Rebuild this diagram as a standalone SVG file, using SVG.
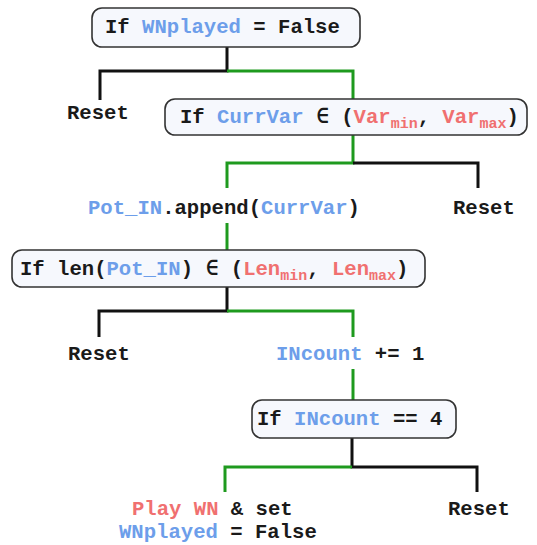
<svg xmlns="http://www.w3.org/2000/svg" width="537" height="545" viewBox="0 0 537 545">
<style>
text{font-family:"Liberation Mono","DejaVu Sans Mono",monospace;font-weight:bold;font-size:20.6px;fill:#1a1a1a}
.b{fill:#6d9eea}
.r{fill:#f07070}
.s{font-size:15px}
.box{fill:#f6f8fd;stroke:#333;stroke-width:1.6}
.k{fill:none;stroke:#111;stroke-width:3}
.g{fill:none;stroke:#1e9a1e;stroke-width:3}
</style>
<rect width="537" height="545" fill="#fff"/>
<g id="connectors">
<path class="k" d="M227,47 V71 H100 V100"/>
<path class="g" d="M227,71 H353 V99"/>
<path class="g" d="M353,135 V163 H227 V188"/>
<path class="k" d="M353,163 H478 V188"/>
<path class="g" d="M227,223 V250"/>
<path class="k" d="M227,287 V311 H99 V337"/>
<path class="g" d="M227,311 H353 V337"/>
<path class="g" d="M353,369 V400"/>
<path class="k" d="M352,438 V467 H477 V492"/>
<path class="g" d="M352,467 H225 V492"/>
</g>
<g id="n1">
<rect class="box" x="92" y="8" width="268" height="39" rx="10"/>
<text x="105" y="33">If <tspan class="b">WNplayed</tspan> = False</text>
</g>
<g id="reset1"><text x="67" y="119">Reset</text></g>
<g id="n2">
<rect class="box" x="165" y="99" width="362" height="36" rx="10"/>
<text x="180" y="123">If <tspan class="b">CurrVar</tspan> <tspan x="316.4">∈</tspan> <tspan x="341.2">(</tspan><tspan class="r">Var</tspan><tspan class="r s" dy="5">min</tspan><tspan dy="-5">, </tspan><tspan class="r">Var</tspan><tspan class="r s" dy="5">max</tspan><tspan dy="-5">)</tspan></text>
</g>
<g id="append"><text x="88" y="214"><tspan class="b">Pot_IN</tspan>.append(<tspan class="b">CurrVar</tspan>)</text></g>
<g id="reset2"><text x="453" y="214">Reset</text></g>
<g id="n3">
<rect class="box" x="12" y="250" width="413" height="37" rx="10"/>
<text x="20" y="275">If len(<tspan class="b">Pot_IN</tspan>) <tspan x="206">∈</tspan> <tspan x="230.8">(</tspan><tspan class="r">Len</tspan><tspan class="r s" dy="5">min</tspan><tspan dy="-5">, </tspan><tspan class="r">Len</tspan><tspan class="r s" dy="5">max</tspan><tspan dy="-5">)</tspan></text>
</g>
<g id="reset3"><text x="68" y="360">Reset</text></g>
<g id="incount"><text x="276" y="360"><tspan class="b">INcount</tspan> += 1</text></g>
<g id="n4">
<rect class="box" x="252" y="400" width="204" height="38" rx="10"/>
<text x="257" y="425">If <tspan class="b">INcount</tspan> == 4</text>
</g>
<g id="play"><text x="132" y="515"><tspan class="r">Play WN</tspan> &amp; set</text><text x="119" y="538"><tspan class="b">WNplayed</tspan> = False</text></g>
<g id="reset4"><text x="448" y="515">Reset</text></g>
</svg>
